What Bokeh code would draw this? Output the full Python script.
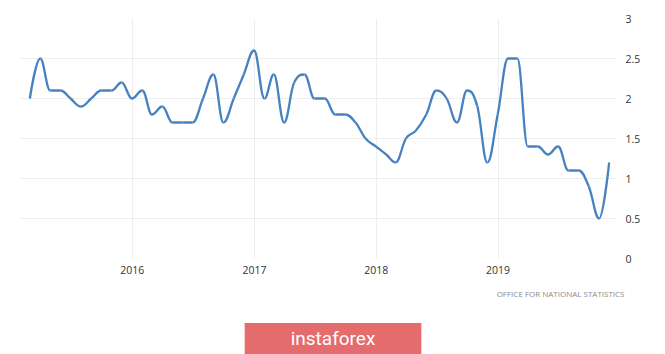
import pandas as pd
from bokeh.plotting import figure
from bokeh.layouts import column
from bokeh.models import Range1d, FixedTicker, DatetimeTickFormatter, Label, Title
from bokeh.embed import file_html
from bokeh.resources import INLINE

# ---- data (monthly, month-end dates) ----
first_month = "2015-02"
last_month = "2019-11"
values = [2.0, 2.5, 2.1, 2.1, 2.0, 1.9, 2.0, 2.1, 2.1, 2.2, 2.0,
          2.1, 1.8, 1.9, 1.7, 1.7, 1.7, 2.0, 2.3, 1.7, 2.0, 2.3, 2.6,
          2.0, 2.3, 1.7, 2.2, 2.3, 2.0, 2.0, 1.8, 1.8, 1.7, 1.5, 1.4,
          1.3, 1.2, 1.5, 1.6, 1.8, 2.1, 2.0, 1.7, 2.1, 1.9, 1.2, 1.8,
          2.5, 2.5, 1.4, 1.4, 1.3, 1.4, 1.1, 1.1, 0.9, 0.5, 1.2]
y_ticks = [0, 0.5, 1, 1.5, 2, 2.5, 3]
y_tick_labels = ["0", "0.5", "1", "1.5", "2", "2.5", "3"]
year_ticks = ["2016-01-01", "2017-01-01", "2018-01-01", "2019-01-01"]
x_start = "2015-01-31"
x_end = "2019-12-25"
source_text = "OFFICE FOR NATIONAL STATISTICS"
watermark_text = "instaforex"

EPOCH = pd.Timestamp("1970-01-01")
def to_ms(ts):
    return (pd.to_datetime(ts) - EPOCH) // pd.Timedelta(milliseconds=1)

months = pd.period_range(first_month, last_month, freq="M").to_timestamp(how="end").normalize()
xs = [float(v) for v in to_ms(months)]
ys = [float(v) for v in values]


def spline_controls(xs, ys, smoothing=1.5):
    n = len(xs)
    lcx, lcy, rcx, rcy = list(xs), list(ys), list(xs), list(ys)
    d = smoothing + 1
    for i in range(1, n - 1):
        x, y = xs[i], ys[i]
        lx, ly = xs[i - 1], ys[i - 1]
        nx, ny = xs[i + 1], ys[i + 1]
        lX = (smoothing * x + lx) / d
        lY = (smoothing * y + ly) / d
        rX = (smoothing * x + nx) / d
        rY = (smoothing * y + ny) / d
        if rX != lX:
            corr = ((rY - lY) * (rX - x)) / (rX - lX) + y - rY
            lY += corr
            rY += corr
        if lY > ly and lY > y:
            lY = max(ly, y); rY = 2 * y - lY
        elif lY < ly and lY < y:
            lY = min(ly, y); rY = 2 * y - lY
        if rY > ny and rY > y:
            rY = max(ny, y); lY = 2 * y - rY
        elif rY < ny and rY < y:
            rY = min(ny, y); lY = 2 * y - rY
        lcx[i], lcy[i], rcx[i], rcy[i] = lX, lY, rX, rY
    return lcx, lcy, rcx, rcy

lcx, lcy, rcx, rcy = spline_controls(xs, ys)

x0_ms = float(to_ms(pd.Timestamp(x_start)))
x1_ms = float(to_ms(pd.Timestamp(x_end)))
p = figure(width=665, height=310, x_axis_type="datetime", y_axis_location="right",
           x_range=Range1d(x0_ms, x1_ms),
           y_range=Range1d(0, 3),
           output_backend="svg", toolbar_location=None,
           min_border_left=20, min_border_right=48, min_border_top=18, min_border_bottom=52)
p.outline_line_color = None
p.background_fill_color = "white"
p.border_fill_color = "white"

p.bezier(x0=xs[:-1], y0=ys[:-1], x1=xs[1:], y1=ys[1:],
         cx0=rcx[:-1], cy0=rcy[:-1], cx1=lcx[1:], cy1=lcy[1:],
         line_color="#4682c0", line_width=2.3)

# y axis (right)
ya = p.yaxis[0]
ya.ticker = FixedTicker(ticks=y_ticks)
ya.major_label_overrides = {t: l for t, l in zip(y_ticks, y_tick_labels)}
ya.axis_line_color = None
ya.major_tick_line_color = None
ya.minor_tick_line_color = None
ya.major_label_standoff = 2
ya.major_label_text_font = "Open Sans"
ya.major_label_text_font_size = "10.5px"
ya.major_label_text_color = "#333333"

# x axis
xa = p.xaxis[0]
xa.ticker = FixedTicker(ticks=[float(to_ms(pd.Timestamp(t))) for t in year_ticks])
fmt = "%Y"
xa.formatter = DatetimeTickFormatter(milliseconds=fmt, seconds=fmt, minsec=fmt, minutes=fmt,
                                     hourmin=fmt, hours=fmt, days=fmt, months=fmt, years=fmt)
xa.axis_line_color = None
xa.major_tick_line_color = None
xa.minor_tick_line_color = None
xa.major_label_standoff = 1
xa.major_label_text_font = "Open Sans"
xa.major_label_text_font_size = "10.5px"
xa.major_label_text_color = "#333333"

for g in (p.xgrid[0], p.ygrid[0]):
    g.grid_line_color = "#dcdcdc"
    g.grid_line_dash = "1 1"
    g.grid_line_width = 1
p.ygrid[0].ticker = FixedTicker(ticks=y_ticks)

# source note as a title below the x axis, right aligned
src = Title(text=source_text, align="right", offset=-7, standoff=19,
            text_font="Open Sans", text_font_size="8px", text_font_style="normal",
            text_color="#8a8a8a")
p.add_layout(src, "below")

# ---- footer strip: watermark ----
f = figure(width=665, height=44, x_range=Range1d(0, 665), y_range=Range1d(0, 44),
           output_backend="svg", toolbar_location=None, min_border=0)
f.axis.visible = False
f.grid.visible = False
f.outline_line_color = None
f.background_fill_color = "white"
f.border_fill_color = "white"

wm = Label(x=312.5, y=16, x_units="screen", y_units="screen", text=watermark_text,
           text_align="center", text_baseline="middle", text_font="Roboto",
           text_font_size="19px", text_color="white",
           background_fill_color="#e46c6c", padding=(46, 4))
f.add_layout(wm)

layout = column(p, f, spacing=0)
open("out.html", "w").write(file_html(layout, INLINE))
